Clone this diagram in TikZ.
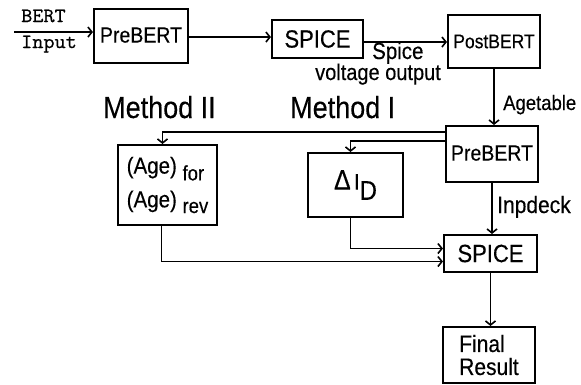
\documentclass[tikz,border=0pt]{standalone}
\usepackage{fontspec}
\setmainfont{Liberation Sans}[FakeBold=0.35]
\setmonofont{Latin Modern Mono}[FakeBold=0.8]
\usetikzlibrary{arrows.meta}
\newcommand\fsz[1]{\fontsize{#1}{#1}\selectfont}
\newcommand\vs[1]{\scalebox{1}[1.13]{#1}}
\begin{document}
\begin{tikzpicture}[x=1pt,y=-1pt,
  box/.style={draw,line width=2.1pt,inner sep=0pt,align=center},
  conn/.style={line width=1.8pt,-{Straight Barb[length=4pt,width=10pt,line width=1.6pt]}},
  lbl/.style={inner sep=0pt,anchor=base west}]
\useasboundingbox (0,0) rectangle (581,384);
% boxes
\node[box,minimum width=94pt,minimum height=54pt,font=\fsz{19.5}] (pb1) at (141,36) {\raisebox{2pt}{\vs{PreBERT}}};
\node[box,minimum width=91pt,minimum height=38pt,font=\fsz{22}] (sp1) at (317.5,39) {\vs{SPICE}};
\node[box,minimum width=92pt,minimum height=53pt,font=\fsz{17.5}] (post) at (494,41.5) {\vs{PostBERT}};
\node[box,minimum width=92pt,minimum height=56pt,font=\fsz{19.5}] (pb2) at (492,154) {\raisebox{2pt}{\vs{PreBERT}}};
\node[box,minimum width=99pt,minimum height=80pt,align=left,font=\fsz{20.5}] (age) at (167.5,185)
  {\vs{(Age) \raisebox{-6pt}{\fsz{18.5}for}}\\[9pt]\vs{(Age) \raisebox{-5pt}{\fsz{18.5}rev}}};
\node[box,minimum width=95pt,minimum height=64pt,font=\fsz{20}] (dI) at (355.5,185)
  {\vs{{\fsz{25}Δ}\,I\raisebox{-9pt}{\fsz{24}D}}};
\node[box,minimum width=93pt,minimum height=37pt,font=\fsz{22}] (sp2) at (490.5,253.5) {\vs{SPICE}};
\node[box,minimum width=92pt,minimum height=56pt,align=left,font=\fontsize{21}{23}\selectfont] (fin) at (489,355) {\vs{Final}\\\vs{Result}};
% labels
\node[lbl,font=\ttfamily\fsz{18}] (tB) at (21,22) {\scalebox{1.2}[1.13]{BERT}};
\node[lbl,font=\ttfamily\fsz{18}] (tI) at (21,48) {\scalebox{1.2}[1.13]{Input}};
\node[lbl,font=\fsz{20.5}] (tS) at (372,59) {\vs{Spice}};
\node[lbl,font=\fsz{20}] (tV) at (315,80) {\vs{voltage output}};
\node[lbl,font=\fsz{18.5}] (tA) at (503,110) {\vs{Agetable}};
\node[lbl,font=\fsz{27}] (tM2) at (103,118) {\vs{Method II}};
\node[lbl,font=\fsz{27}] (tM1) at (290,118) {\vs{Method I}};
\node[lbl,font=\fsz{21}] (tD) at (497,213) {\vs{Inpdeck}};
% connectors
\coordinate (in) at (14,32);
\draw[conn] (in) -- (in -| pb1.west);
\draw[conn] ([yshift=-1pt]pb1.east) -- ([yshift=-1pt]pb1.east -| sp1.west);
\draw[conn] ([yshift=-3pt]sp1.east) -- ([yshift=-3pt]sp1.east -| post.west);
\draw[conn] (post.south) -- (post.south |- pb2.north);
\draw[conn] ([yshift=22pt]pb2.west) -| ([xshift=-5pt]age.north);
\draw[conn] ([yshift=13pt]pb2.west) -| ([xshift=-5pt]dI.north);
\draw[conn] ([xshift=-5pt]dI.south) |- ([yshift=5pt]sp2.west);
\draw[conn] ([xshift=-6pt]age.south) |- ([yshift=-8pt]sp2.west);
\draw[conn] (pb2.south) -- (pb2.south |- sp2.north);
\draw[conn] (sp2.south) -- (sp2.south |- fin.north);
\end{tikzpicture}
\end{document}
